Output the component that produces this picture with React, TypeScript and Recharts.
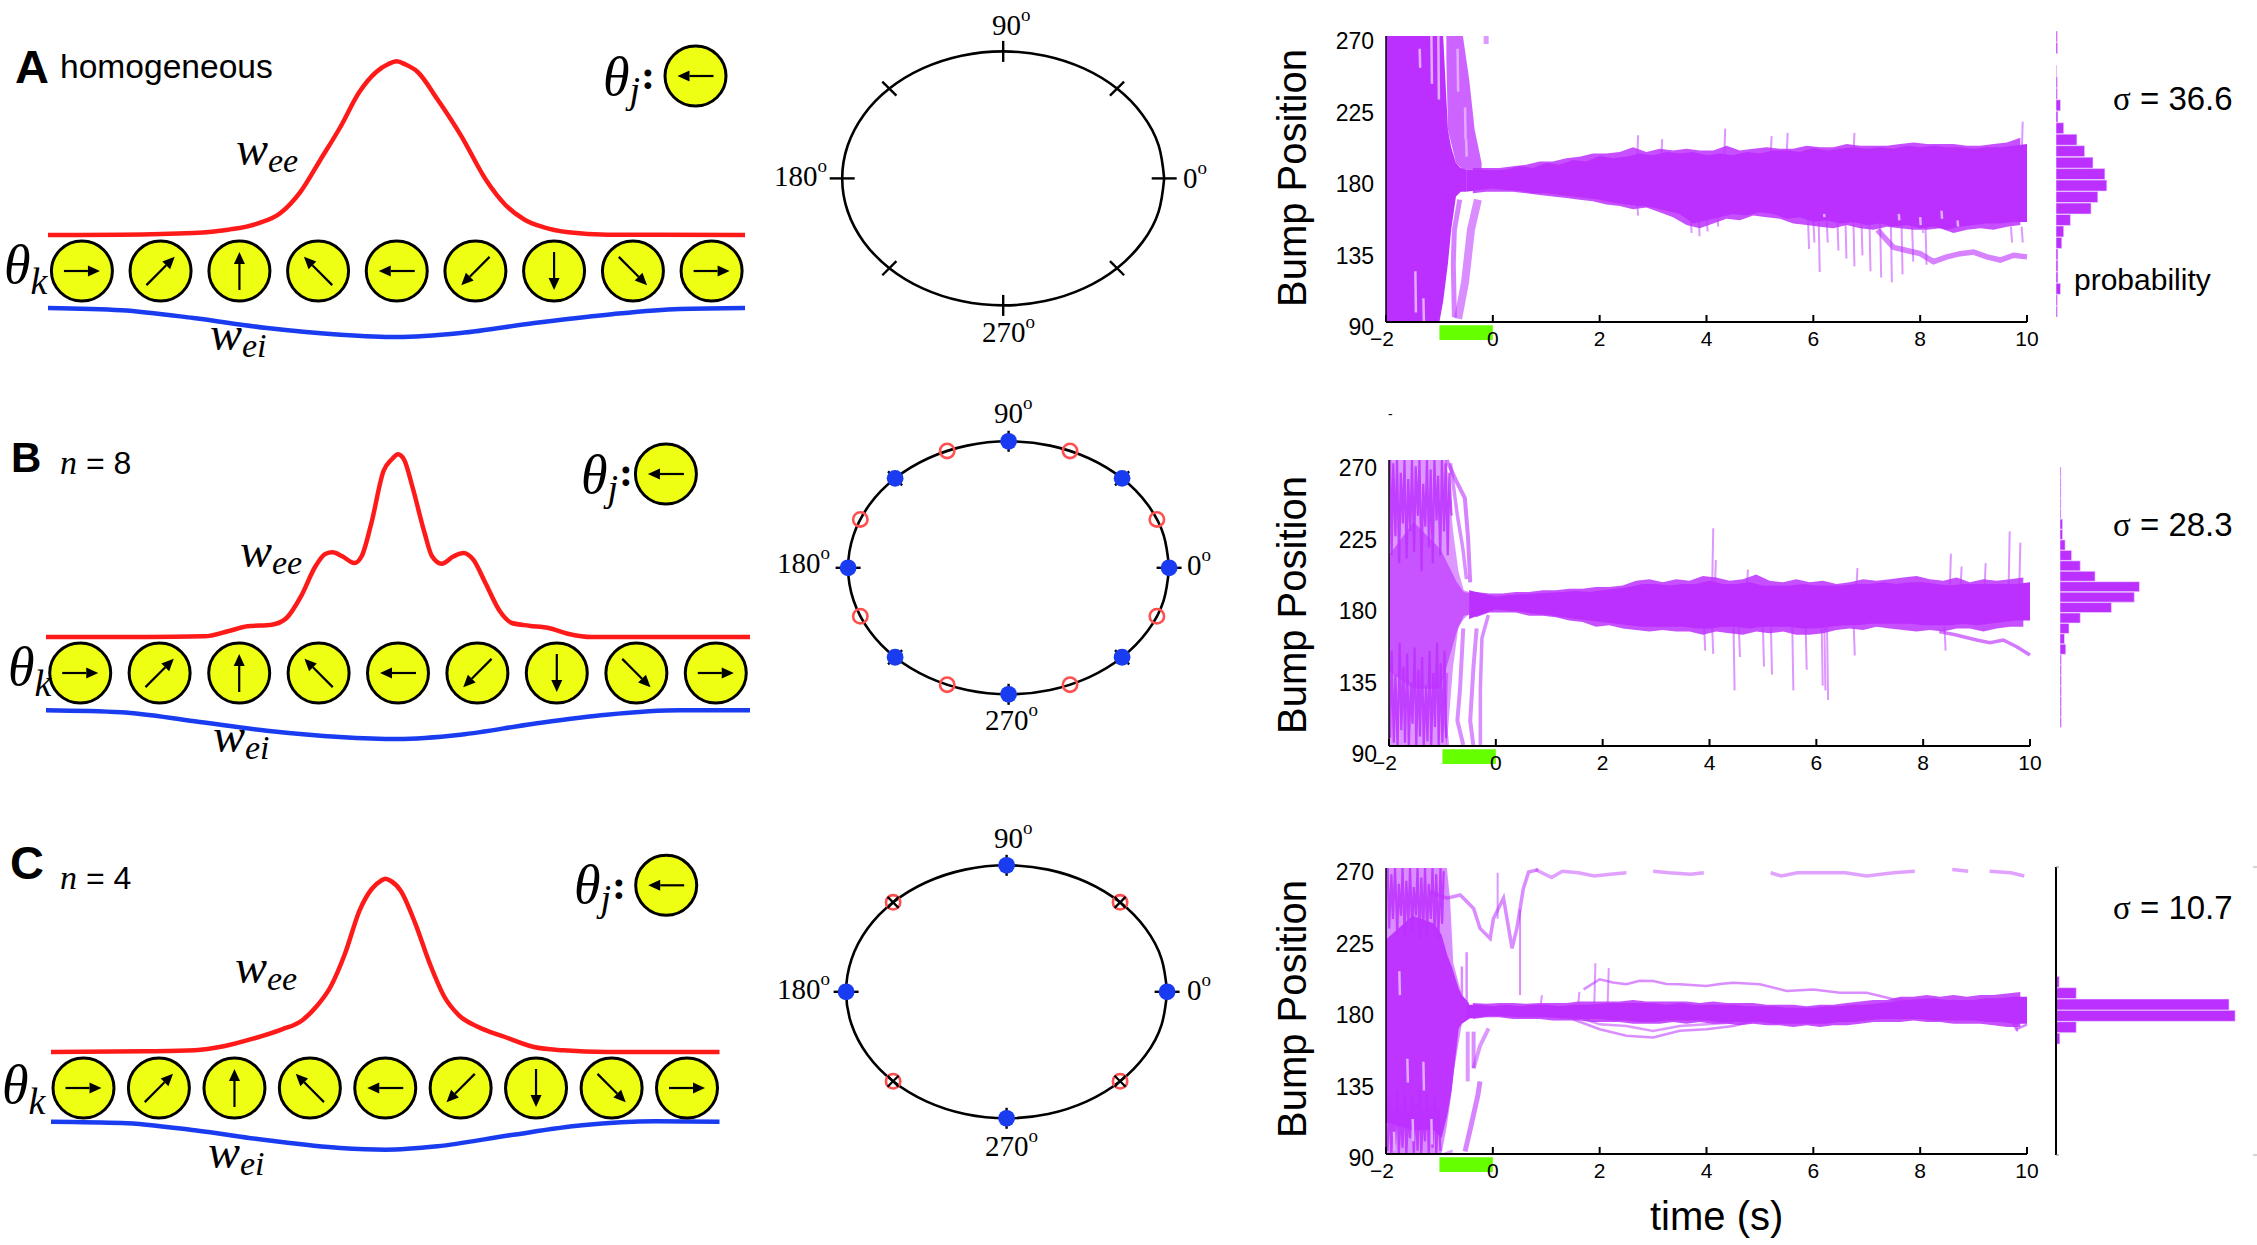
import React from "react";
import { ComposedChart, BarChart, Bar, Area, Line, Scatter, XAxis, YAxis, ReferenceArea } from "recharts";

// ---------- connectivity profiles (degrees vs. weight) ----------
const thetaEeA = [-180,-142,-105,-87,-72,-60,-49.5,-39.4,-29.4,-19.3,-10.6,-4.3,0,4.5,10.8,20.9,33.4,46,56,66,76,88.7,108.8,180];
const weeA = [0,0.3,2,5.3,11.3,22,43.7,75.3,107,143,163,171,173.7,170.5,163,136,98.7,55.3,30.3,15.3,7.7,2.7,0.3,0];
const thetaEiA = [-180,-142,-105,-67,-29,0,33,71,108.8,146,180];
const weiA = [-73,-75.3,-83,-93,-99.7,-102,-98,-88,-79.7,-74,-73];

const thetaEeB = [-180,-129,-99,-87,-77,-64.5,-57,-49.6,-42.2,-37.2,-33.5,-28.5,-22.3,-18.6,-13.6,-7.4,-3,0,3.2,7.4,13.6,17.4,22.3,28.5,33.5,38.5,44.7,52.1,58.3,67,77,86.8,99.3,180];
const weeB = [0,0,0.7,5.7,10.7,12.3,19,40.7,70.7,83,84.7,80.7,74,80.7,114,166,178,182.7,177,150,104,80.7,73.3,80.7,84,77.3,54,25.7,14,11.3,9,3.3,0,0];
const thetaEiB = [-180,-141.6,-104,-67,-29.8,0,32,69.5,106.7,144,180];
const weiB = [-73.3,-75.3,-84.3,-93.7,-100,-102,-97.7,-86.7,-77.7,-73.3,-73.3];

const thetaEeC = [-180,-128.7,-102.6,-87,-71.3,-55.6,-45.2,-37.3,-29.5,-21.7,-13.8,-7.3,-2.1,0,3.1,8.4,16.2,24,31.9,39.7,50.1,64.5,80.1,95.8,119.3,180];
const weeC = [0,0.7,1.7,5.7,13.3,22.7,31,45,65,98.3,141.7,163,171.5,173.3,171,161,128.3,88.3,55,36.7,25,15,5,1.7,0,0];
const thetaEiC = [-180,-141.8,-102.6,-63.4,-24.3,0,28,67,106,145.4,180];
const weiC = [-69.7,-71,-78.3,-88.3,-96,-97.7,-94.3,-83.3,-73.3,-69.3,-69.7];

// ---------- neurons ----------
const neuronTheta = [-162.5,-121.9,-81.2,-40.6,0,40.6,81.2,121.9,162.5];
const neuronPref = [0,45,90,135,180,225,270,315,0];

// ---------- ring ----------
const ringDegrees = [0,15,30,45,60,75,90,105,120,135,150,165,180,195,210,225,240,255,270,285,300,315,330,345,360];
const axisDegrees = [0,90,180,270];
const diagDegrees = [45,135,225,315];
const eighthDegrees = [22.5,67.5,112.5,157.5,202.5,247.5,292.5,337.5];

// ---------- bump-position traces ----------
const bandTimes = [-0.5,-0.25,0,0.25,0.5,0.75,1,1.25,1.5,1.75,2,2.25,2.5,2.75,3,3.25,3.5,3.75,4,4.25,4.5,4.75,5,5.25,5.5,5.75,6,6.25,6.5,6.75,7,7.25,7.5,7.75,8,8.25,8.5,8.75,9,9.25,9.5,9.75,10];
const bandHighA = [186,186,185.5,186,188,187,190,189,192,191,194.5,193,194,196,195,197,196,197,195,196,195,197,196,198,198,197,199.5,198,199,200,199,200,199,201,200,201,200,200,199,200,200,201,202];
const bandLowA = [172,173,174,173,172.5,171,171,170,169,168,167,165,164,163,162,160,158,152,154,156,158,157,159,158,155,156,153,154,152,153,151,152,150,151,149,150,148,150,151,152,152,153,153];
const bandHighB = [188,186,184,185,185.5,186,186.5,187,187.5,187,188,189,190,192,192,191,192,192,194,192,192,193,191,191,191,192,191,191,191,192,192,193,192,193,193,192,191,192,192,192,192,192,193];
const bandLowB = [170,173,176,175,174.5,173,172.5,171,170,169,168,167,166,165,165,165,165,164,164,165,165,164,165,165,165,164,164,165,166,166,167,167,167,167,166,166,166,167,166,167,168,169,169];
const bandHighC = [184,184,183,184,183,184,184,183,184,184,184.5,185,185,185,185,184,185,184,184,184,184,183,183,183,182,182,182,183,183,184,184,185,186,187,187.5,188,187,187,187,188,188,189,189];
const bandLowC = [175,176,177,176.5,176,176,176,175.5,175,175,175,174,174,173,173,174,174,174,174,173,173,173,173,172,172,172,172,172,173,173,174,175,175,175,175,174,174,174,174,173,173,172,172];

const fringeTimes = [-0.375,-0.125,0.125,0.375,0.625,0.875,1.125,1.375,1.625,1.875,2.125,2.375,2.625,2.875,3.125,3.375,3.625,3.875,4.125,4.375,4.625,4.875,5.125,5.375,5.625,5.875,6.125,6.375,6.625,6.875,7.125,7.375,7.625,7.875,8.125,8.375,8.625,8.875,9.125,9.375,9.625,9.875];
const fringeHighA = [187,187,187,188,189,191,191,193,194,196,196,197,200,197,199,198,199,198,198,201,198,199,200,199,199,201,200,200,202,201,201,201,202,203,202,202,202,201,201,202,203,206];
const fringeLowA = [171,172,172,172,171,170,169,168,167,166,164,163,161,162,159,156,151,149,152,155,154,157,156,155,152,151,150,149,151,149,148,150,149,148,148,149,146,148,149,148,150,151];
const fringeHighB = [187,186,186,187,187,188,188,189,189,190,190,191,194,195,193,195,194,197,196,194,195,198,194,193,195,193,194,192,193,195,194,195,196,197,195,194,196,193,195,194,195,196];
const fringeLowB = [171,174,174,174,172,172,171,169,168,165,166,164,163,162,163,162,162,160,162,161,160,162,161,162,160,160,161,163,164,163,165,164,163,162,163,162,164,164,162,164,165,165];
const fringeHighC = [185,184.5,185,185,184.5,185,185,185,186,186,186,186,187,186,186,186,186,185,186,185,185,185,184,184,184,183,184,184,185,186,187,187,189,189,190,189,190,189,190,190,191,192];
const fringeLowC = [175,176,176,175,175,175,174,174,174,173,173,173,172,172,172,173,172,173,172,172,171,172,171,171,170,171,170,171,171,172,173,173,173,174,173,173,172,172,172,171,170,170];

const paleTimesA = [-2,-1,-0.93,-0.84,-0.78,-0.69,-0.6,-0.5];
const paleHighA = [270,270,270,211,200,190,187,186];
const paleLowA = [90,90,103,127,148,169,172,172];
const wedgeTimesA = [-0.87,-0.84,-0.69,-0.56,-0.44,-0.34,-0.21];
const wedgeHighA = [270,270,270,270,242,211,190];
const wedgeLowA = [255,211,190,186,186,186,186];
const paleTimesB = [-2,-0.92,-0.8,-0.7,-0.6,-0.5];
const paleHighB = [270,270,225,200,188,187];
const paleLowB = [90,90,140,165,170,173];
const coreTimesB = [-2,-1.54,-1.04,-0.73,-0.6,-0.45];
const coreHighB = [210,231,214,193,187,186];
const coreLowB = [137,126,126,162,172,173];
const paleTimesC = [-2,-0.96,-0.86,-0.8,-0.74,-0.58,-0.45];
const paleHighC = [270,270,270,250,210,190,185];
const paleLowC = [90,90,108,122,140,172,175];
const coreTimesC = [-2,-1.5,-1.1,-0.96,-0.85,-0.77,-0.64,-0.58,-0.45];
const coreHighC = [225,240,235,228,215,208,194,190,185];
const coreLowC = [110,105,105,100,115,130,169,172,175];

const zigTopB = [[-1.98,270],[-1.95,210],[-1.92,268],[-1.88,222],[-1.85,270],[-1.81,205],[-1.78,262],[-1.74,230],[-1.71,270],[-1.67,208],[-1.64,258],[-1.6,225],[-1.57,270],[-1.53,212],[-1.5,266],[-1.46,235],[-1.43,270],[-1.39,200],[-1.36,255],[-1.32,228],[-1.29,270],[-1.25,215],[-1.22,264],[-1.18,205],[-1.15,270],[-1.11,232],[-1.08,260],[-1.04,210],[-1.01,270],[-0.97,225],[-0.94,268],[-0.9,210],[-0.87,262],[-0.83,235]];
const zigBotB = [[-1.98,95],[-1.95,150],[-1.91,92],[-1.88,135],[-1.84,90],[-1.8,155],[-1.77,100],[-1.73,140],[-1.7,92],[-1.66,148],[-1.63,90],[-1.59,130],[-1.56,104],[-1.52,152],[-1.49,90],[-1.45,138],[-1.42,96],[-1.38,146],[-1.35,90],[-1.31,128],[-1.28,93],[-1.24,150],[-1.21,90],[-1.17,136],[-1.14,102],[-1.1,155],[-1.07,90],[-1.03,142],[-1,92],[-0.96,150],[-0.93,95]];
const zigTopC = [[-1.97,270],[-1.94,232],[-1.9,266],[-1.87,238],[-1.83,270],[-1.79,228],[-1.76,260],[-1.72,240],[-1.69,270],[-1.65,226],[-1.62,262],[-1.58,236],[-1.55,270],[-1.51,230],[-1.48,258],[-1.44,240],[-1.41,270],[-1.37,225],[-1.34,264],[-1.3,234],[-1.27,270],[-1.23,228],[-1.2,260],[-1.16,238],[-1.13,270],[-1.09,230],[-1.06,266],[-1.02,225],[-0.98,270],[-0.95,235],[-0.92,268]];
const zigBotC = [[-1.97,92],[-1.94,125],[-1.9,90],[-1.87,118],[-1.83,96],[-1.79,130],[-1.76,90],[-1.72,120],[-1.69,94],[-1.65,128],[-1.62,90],[-1.58,116],[-1.55,100],[-1.51,126],[-1.48,90],[-1.44,122],[-1.41,92],[-1.37,130],[-1.34,90],[-1.3,118],[-1.27,98],[-1.23,128],[-1.2,90],[-1.16,120],[-1.13,94],[-1.09,126],[-1.06,90],[-1.02,118],[-0.98,92]];

const streaksA = [
  { w: 5, o: 0.6, pts: [[-0.72,93],[-0.74,127],[-0.72,148],[-0.62,167]] },
  { w: 8, o: 0.55, pts: [[-0.65,92],[-0.52,115],[-0.41,148],[-0.28,167]] },
  { w: 5, o: 0.5, pts: [[-0.125,270],[-0.125,265]] },
  { w: 5.5, o: 0.6, pts: [[7.2,148],[7.5,137],[7.75,135],[8,133],[8.25,128],[8.5,131],[8.75,133],[9,134],[9.25,131],[9.5,129],[9.75,132],[10,131]] },
];
const streaksB = [
  { w: 4, o: 0.6, pts: [[-0.92,270],[-0.73,256],[-0.58,246],[-0.52,221],[-0.48,193]] },
  { w: 3.5, o: 0.55, pts: [[-0.85,268],[-0.72,235],[-0.62,215],[-0.55,195]] },
  { w: 4, o: 0.55, pts: [[-0.61,164],[-0.67,126],[-0.72,106],[-0.61,90.6]] },
  { w: 4, o: 0.55, pts: [[-0.36,164],[-0.42,139],[-0.48,106],[-0.42,90]] },
  { w: 3.5, o: 0.55, pts: [[-0.14,172.5],[-0.26,158],[-0.29,126],[-0.29,90]] },
  { w: 3, o: 0.5, pts: [[-0.92,136],[-0.95,106],[-0.9,90]] },
  { w: 3.5, o: 0.65, pts: [[8.3,162],[8.6,160],[9,156.7],[9.25,155],[9.5,156.7],[9.75,152.5],[10,147.3]] },
];
const streaksC = [
  { w: 4, o: 0.5, pts: [[-0.08,169],[-0.24,158],[-0.36,144]] },
  { w: 4, o: 0.55, pts: [[-0.36,167],[-0.36,144]] },
  { w: 4, o: 0.5, pts: [[-0.47,167],[-0.47,135.7]] },
  { w: 5, o: 0.6, pts: [[-0.24,135.7],[-0.28,127],[-0.42,106],[-0.52,91.6]] },
  { w: 3, o: 0.45, pts: [[-0.9,90],[-0.75,92]] },
  { w: 2.5, o: 0.55, pts: [[-0.49,217],[-0.49,186]] },
  { w: 2.5, o: 0.55, pts: [[-0.58,208],[-0.58,186]] },
  { w: 3.5, o: 0.55, pts: [[-1.175,255],[-0.86,251],[-0.61,253],[-0.36,244.5],[-0.24,232],[-0.05,225.6],[0.01,238],[0.2,251],[0.36,219.4],[0.45,232],[0.57,257],[0.67,267.5],[0.85,269]] },
  { w: 2, o: 0.5, pts: [[0.09,267],[0.09,238]] },
  { w: 2, o: 0.55, pts: [[0.51,244],[0.51,190]] },
  { w: 2.5, o: 0.55, pts: [[1.7,193.6],[2,200],[2.25,198],[2.5,196.8],[2.75,199],[3,198.9],[3.25,197],[3.5,196.8],[4,195.7],[4.25,197],[4.5,197.8],[5,196.8],[5.5,192.6],[6,193.6],[6.5,191.5],[7,191.5],[7.5,187.4],[8,185.3]] },
  { w: 2.5, o: 0.55, pts: [[1.5,174.8],[2,168.5],[2.5,164.4],[3,163.3],[3.5,167.5],[4,168.5],[4.5,170.6],[5,174.8]] },
  { w: 2.5, o: 0.5, pts: [[1.7,175],[2,171.6],[2.5,170.6],[3,167.5],[3.5,170.6],[4,171.6],[4.5,172.7]] },
  { w: 2.5, o: 0.6, pts: [[9.7,174.8],[9.8,168.5],[10,171.6]] },
];

const spikesA = [[2.7,190,207.5],[3.15,190,205],[4.33,190,211.7],[5.2,195,207],[5.5,195,209],[6.75,195,209],[9.9,195,216],[2.7,165,157],[3.7,160,146],[3.85,160,144],[4,160,147],[4.2,160,150],[5.9,155,136],[6,155,140],[6.1,155,121.5],[6.25,155,140],[6.45,155,135],[6.6,155,130],[6.75,155,125],[6.9,155,132],[7.05,155,122],[7.25,155,118],[7.45,155,115],[7.65,155,120],[7.85,150,128],[8.1,150,126],[9.7,150,140],[9.9,150,140]];
const spikesB = [[4.05,190,227],[4.1,190,207],[4.7,190,201],[6.75,190,202],[8.5,190,211],[8.7,190,203],[9.15,190,205],[9.6,190,225],[9.8,190,218],[3.9,165,150],[4.05,165,148],[4.45,165,125],[4.55,165,146],[5,165,140],[5.15,165,135],[5.55,165,125],[5.8,165,138],[6.1,165,128],[6.15,165,125],[6.2,165,119],[6.7,165,147],[8.4,165,150]];
const spikesC = [[1.9,185,210],[2.15,185,207],[1.6,185,192],[0.9,185,190],[9.8,172,167]];

// pale gaps seen inside the dense parts of the bundle
const slitsA = [[-1.37,262,250],[-1.15,270,240],[-1.02,270,230],[-1.45,122,96],[-1.3,105,90],[-0.66,262,235],[-0.52,225,205],[-0.5,205,194],[6.2,158,156],[7.6,158,154],[8,156,151],[8.4,160,155],[8.7,154,150],[8.05,148,146]];
const slitsC = [[-1.6,150,135],[-1.75,205,190],[-1.3,148,130],[-1.15,112,96],[-1.5,112,98],[-1.85,104,92]];

const topTraceTimesC = [0.8,1.1,1.3,1.6,1.9,2.2,2.5,2.7,3,3.3,3.7,3.95,4.3,5.2,5.4,5.7,6.2,6.6,7,7.5,7.9,8.2,8.6,8.9,9.1,9.3,9.7,9.95];
const topTraceValuesC = [269,264,268,267,265,266,267,null,268,267,266,267,null,267,265,267,267,267,265,267,268,null,269,268,null,268,267,265];

// ---------- probability histograms (percent per bin, top to bottom) ----------
const histBins = ["266","259","252","245","238","230","223","216","209","202","194","187","180","173","166","158","151","144","137","130","122","115","108","101","94"];
const histA = [0.4,0.5,0,0.2,0.4,0.4,1.4,0.6,2.4,6.5,8.9,11.5,15.2,15.8,13,10.9,4.5,2.4,1.8,0.6,0.6,0.6,1.4,0.4,0.4];
const histB = [0.3,0.3,0.3,0.3,0.3,0.8,0.8,1.6,3.6,6.3,10.9,24.7,23.1,16,6.3,2.8,1.4,1.8,0.4,0.4,0.4,0.4,0.4,0.4,0.4];
const histC = [0,0,0,0,0,0,0,0,0,0,1,6.3,53.8,55.7,6.3,1.2,0,0,0,0,0,0,0,0,0];

// ---------- axis ticks ----------
const timeTicks = [-2,0,2,4,6,8,10];
const positionTicks = [90,135,180,225,270];
const stimulusOn = -1;
const stimulusOff = 0;
const stimulusBand = [78.7, 88];

const PURPLE = "#BC30FF";
const SERIF = "'Liberation Serif', serif";
const SANS = "'Liberation Sans', Arial, sans-serif";

const zipXY = (xs: number[], ys: any[]) => xs.map((x, i) => ({ x, y: ys[i] }));
const band = (ts: number[], hi: number[], lo: number[]) => ts.map((t, i) => ({ t, range: [lo[i], hi[i]] }));
const ptsToT = (pts: number[][]) => pts.map(([t, v]) => ({ t, v }));

function NeuronGlyph(props: any) {
  const { cx, cy, payload } = props;
  const a = (payload.pref * Math.PI) / 180;
  const diag = payload.pref % 90 !== 0;
  const half = diag ? 20 : payload.pref % 180 === 90 ? 19 : 18;
  const dx = Math.cos(a), dy = -Math.sin(a);
  const tipX = cx + dx * half, tipY = cy + dy * half;
  const baseX = tipX - dx * 12, baseY = tipY - dy * 12;
  const px = -dy * 5.5, py = dx * 5.5;
  return (
    <g>
      <ellipse cx={cx} cy={cy} rx={30.5} ry={30} fill="#EEFF14" stroke="#000" strokeWidth={3} />
      <line x1={cx - dx * half} y1={cy - dy * half} x2={baseX} y2={baseY} stroke="#000" strokeWidth={2.2} />
      <polygon points={`${tipX},${tipY} ${baseX + px},${baseY + py} ${baseX - px},${baseY - py}`} fill="#000" />
    </g>
  );
}

function WeightPanel({ left, width, top, thetaEe, wee, thetaEi, wei, probe }: any) {
  const neurons = neuronTheta.map((x, i) => ({ x, y: -36, pref: neuronPref[i] }));
  return (
    <div style={{ position: "absolute", left, top }}>
      <ComposedChart width={width} height={320} margin={{ top: 0, right: 0, bottom: 0, left: 0 }}>
        <XAxis type="number" dataKey="x" domain={[-180, 180]} hide />
        <YAxis type="number" dataKey="y" domain={[-120, 200]} hide />
        <Line data={zipXY(thetaEe, wee)} dataKey="y" type="monotone" stroke="#FF1A1A" strokeWidth={4.5} dot={false} isAnimationActive={false} />
        <Line data={zipXY(thetaEi, wei)} dataKey="y" type="monotone" stroke="#1A3CF0" strokeWidth={4.5} dot={false} isAnimationActive={false} />
        <Scatter data={neurons} dataKey="y" shape={NeuronGlyph} isAnimationActive={false} />
        <Scatter data={[probe]} dataKey="y" shape={NeuronGlyph} isAnimationActive={false} />
      </ComposedChart>
    </div>
  );
}

function TickMark(props: any) {
  const { cx, cy, payload } = props;
  const a = (payload.deg * Math.PI) / 180;
  const onAxis = payload.deg % 90 === 0;
  const len = payload.len ?? (onAxis ? (payload.deg % 180 === 0 ? 12.5 : 10.5) : 10);
  const dx = Math.cos(a) * len, dy = -Math.sin(a) * len;
  return <line x1={cx - dx} y1={cy - dy} x2={cx + dx} y2={cy + dy} stroke="#000" strokeWidth={2.4} />;
}
function CrossMark(props: any) {
  const { cx, cy } = props;
  const d = 5.5;
  return (
    <g stroke="#000" strokeWidth={2.2}>
      <line x1={cx - d} y1={cy - d} x2={cx + d} y2={cy + d} />
      <line x1={cx - d} y1={cy + d} x2={cx + d} y2={cy - d} />
    </g>
  );
}
const BlueDot = (props: any) => <circle cx={props.cx} cy={props.cy} r={8.4} fill="#1A3CF0" />;
const RedRing = (props: any) => <circle cx={props.cx} cy={props.cy} r={7.2} fill="none" stroke="#FF5050" strokeWidth={2.6} />;

const onRing = (deg: number, extra: any = {}) => ({
  x: Math.cos((deg * Math.PI) / 180),
  y: Math.sin((deg * Math.PI) / 180),
  deg,
  ...extra,
});

function RingPanel({ cx, cy, rx, ry, blue, red, cross, tickLen }: any) {
  const pad = 1.2;
  const w = 2 * rx * pad, h = 2 * ry * pad;
  const ticks = [...axisDegrees.map((d) => onRing(d)), ...diagDegrees.map((d) => onRing(d, tickLen ? { len: tickLen } : {}))];
  return (
    <div style={{ position: "absolute", left: cx - w / 2, top: cy - h / 2 }}>
      <ComposedChart width={w} height={h} margin={{ top: 0, right: 0, bottom: 0, left: 0 }}>
        <XAxis type="number" dataKey="x" domain={[-pad, pad]} hide />
        <YAxis type="number" dataKey="y" domain={[-pad, pad]} hide />
        <Line data={ringDegrees.map((d) => onRing(d))} dataKey="y" type="natural" stroke="#000" strokeWidth={2.6} dot={false} isAnimationActive={false} />
        <Scatter data={ticks} dataKey="y" shape={TickMark} isAnimationActive={false} />
        {red && <Scatter data={red.map((d: number) => onRing(d))} dataKey="y" shape={RedRing} isAnimationActive={false} />}
        {cross && <Scatter data={cross.map((d: number) => onRing(d))} dataKey="y" shape={CrossMark} isAnimationActive={false} />}
        {blue && <Scatter data={blue.map((d: number) => onRing(d))} dataKey="y" shape={BlueDot} isAnimationActive={false} />}
      </ComposedChart>
    </div>
  );
}

function RasterPanel({ left, top, labelDy, main, fringe, pale, core, wedge, zigs, streaks, spikes, slits, topTrace }: any) {
  const axisW = 60, pad = 10;
  const YTick = (p: any) => (
    <text x={p.x - 12} y={p.y + labelDy} textAnchor="end" dominantBaseline="central" fontFamily={SANS} fontSize={23} fill="#000">{p.payload.value}</text>
  );
  const XTick = (p: any) => (
    <text x={p.x - (p.payload.value < 0 ? 4 : 0)} y={p.y + 7 + 16} textAnchor="middle" dominantBaseline="central" fontFamily={SANS} fontSize={21} fill="#000">
      {p.payload.value < 0 ? "\u2212" + Math.abs(p.payload.value) : p.payload.value}
    </text>
  );
  return (
    <div style={{ position: "absolute", left: left - axisW, top: top - pad }}>
      <ComposedChart width={axisW + 641 + 30} height={pad + 286 + 40} margin={{ top: pad, right: 30, bottom: 0, left: 0 }}>
        <XAxis type="number" dataKey="t" domain={[-2, 10]} ticks={timeTicks} height={40} interval={0} tick={XTick} tickSize={-7} tickMargin={0} stroke="#000" strokeWidth={2} />
        <YAxis type="number" domain={[90, 270]} ticks={positionTicks} width={axisW} interval={0} tick={YTick} tickLine={false} tickSize={0} tickMargin={0} stroke="#000" strokeWidth={1.5} />
        {pale && <Area data={pale.data} dataKey="range" type="linear" stroke="none" fill={PURPLE} fillOpacity={pale.o} dot={false} activeDot={false} isAnimationActive={false} />}
        {wedge && <Area data={wedge.data} dataKey="range" type="linear" stroke="none" fill={PURPLE} fillOpacity={wedge.o} dot={false} activeDot={false} isAnimationActive={false} />}
        {core && <Area data={core.data} dataKey="range" type="linear" stroke="none" fill={PURPLE} fillOpacity={core.o} dot={false} activeDot={false} isAnimationActive={false} />}
        {(zigs || []).map((z: number[][], i: number) => (
          <Line key={"z" + i} data={ptsToT(z)} dataKey="v" type="linear" stroke={PURPLE} strokeWidth={2.2} strokeOpacity={0.85} dot={false} isAnimationActive={false} />
        ))}
        <Area data={fringe} dataKey="range" type="linear" stroke="none" fill={PURPLE} fillOpacity={0.85} dot={false} activeDot={false} isAnimationActive={false} />
        <Area data={main} dataKey="range" type="linear" stroke="none" fill={PURPLE} fillOpacity={1} dot={false} activeDot={false} isAnimationActive={false} />
        {spikes.map((s: number[], i: number) => (
          <Line key={"s" + i} data={[{ t: s[0], v: s[1] }, { t: s[0] + 0.02, v: s[2] }]} dataKey="v" type="linear" stroke={PURPLE} strokeOpacity={0.5} strokeWidth={2} dot={false} isAnimationActive={false} />
        ))}
        {streaks.map((s: any, i: number) => (
          <Line key={"k" + i} data={ptsToT(s.pts)} dataKey="v" type="linear" stroke={PURPLE} strokeOpacity={s.o} strokeWidth={s.w} dot={false} isAnimationActive={false} />
        ))}
        {(slits || []).map((s: number[], i: number) => (
          <Line key={"g" + i} data={[{ t: s[0], v: s[1] }, { t: s[0] + 0.01, v: s[2] }]} dataKey="v" type="linear" stroke="#E3ABFF" strokeWidth={2.5} dot={false} isAnimationActive={false} />
        ))}
        {topTrace && <Line data={topTrace} dataKey="v" type="linear" stroke={PURPLE} strokeOpacity={0.45} strokeWidth={3.5} dot={false} connectNulls={false} isAnimationActive={false} />}
        <ReferenceArea x1={stimulusOn} x2={stimulusOff} y1={stimulusBand[0]} y2={stimulusBand[1]} ifOverflow="visible" fill="#66FF00" fillOpacity={1} stroke="none" />
      </ComposedChart>
    </div>
  );
}

function HistPanel({ left, top, height, values }: any) {
  const data = histBins.map((bin, i) => ({ bin, pct: values[i] }));
  return (
    <div style={{ position: "absolute", left, top }}>
      <BarChart layout="vertical" width={193} height={height} data={data} margin={{ top: 0, right: 0, bottom: 0, left: 0 }} barCategoryGap={0} barGap={0}>
        <XAxis type="number" domain={[0, 60]} hide />
        <YAxis type="category" dataKey="bin" hide />
        <Bar dataKey="pct" fill={PURPLE} stroke="#F0DCFF" strokeWidth={0.6} isAnimationActive={false} />
      </BarChart>
    </div>
  );
}

const Deg = ({ x, y, v }: any) => (
  <text x={x} y={y} fontFamily={SERIF} fontSize={29} fill="#000">
    {v}
    <tspan dy={-14} fontSize={19}>o</tspan>
  </text>
);
const W = ({ x, y, sub }: any) => (
  <text x={x} y={y} fontFamily={SERIF} fontStyle="italic" fontSize={48} fill="#000">
    w<tspan dy={7} fontSize={34}>{sub}</tspan>
  </text>
);
const Theta = ({ x, y, sub, colon }: any) => (
  <g>
    <text x={x} y={y} fontFamily={SERIF} fontStyle="italic" fontSize={54} fill="#000">
      θ<tspan dy={sub === "j" ? 8 : 11} fontSize={38}>{sub}</tspan>
    </text>
    {colon && <text x={colon[0]} y={colon[1]} textAnchor="middle" fontFamily={SERIF} fontSize={42} fontWeight="bold" fill="#000">:</text>}
  </g>
);
const Sigma = ({ x, y, v }: any) => (
  <text x={x} y={y} fontFamily={SANS} fontSize={33} fill="#000">
    <tspan fontFamily={SERIF}>σ</tspan> = {v}
  </text>
);
const NLabel = ({ y, v }: any) => (
  <text x={60} y={y} fontFamily={SANS} fontSize={32} fill="#000">
    <tspan fontFamily={SERIF} fontStyle="italic" fontSize={34}>n</tspan> = {v}
  </text>
);

export default function App() {
  return (
    <div style={{ position: "absolute", left: 0, top: 0, width: 2257, height: 1245, background: "#fff", overflow: "hidden" }}>
      <WeightPanel left={47.5} width={697.5} top={35} thetaEe={thetaEeA} wee={weeA} thetaEi={thetaEiA} wei={weiA} probe={{ x: 154.2, y: 159, pref: 180 }} />
      <WeightPanel left={46} width={704} top={437.3} thetaEe={thetaEeB} wee={weeB} thetaEi={thetaEiB} wei={weiB} probe={{ x: 137, y: 163, pref: 180 }} />
      <WeightPanel left={51} width={668.5} top={851.7} thetaEe={thetaEeC} wee={weeC} thetaEi={thetaEiC} wei={weiC} probe={{ x: 151.3, y: 166.7, pref: 180 }} />

      <RingPanel cx={1003} cy={178} rx={161} ry={127} />
      <RingPanel cx={1009} cy={567.5} rx={160.5} ry={126.5} blue={[...axisDegrees, ...diagDegrees]} red={eighthDegrees} />
      <RingPanel cx={1006.5} cy={991.5} rx={160.5} ry={126.5} blue={axisDegrees} red={diagDegrees} cross={diagDegrees} tickLen={1} />

      <RasterPanel left={1386} top={36} labelDy={5} main={band(bandTimes, bandHighA, bandLowA)} fringe={band(fringeTimes, fringeHighA, fringeLowA)}
        pale={{ data: band(paleTimesA, paleHighA, paleLowA), o: 1 }} wedge={{ data: band(wedgeTimesA, wedgeHighA, wedgeLowA), o: 0.75 }} streaks={streaksA} spikes={spikesA} slits={slitsA} />
      <RasterPanel left={1389} top={460} labelDy={8} main={band(bandTimes, bandHighB, bandLowB)} fringe={band(fringeTimes, fringeHighB, fringeLowB)}
        pale={{ data: band(paleTimesB, paleHighB, paleLowB), o: 0.5 }} core={{ data: band(coreTimesB, coreHighB, coreLowB), o: 0.65 }} zigs={[zigTopB, zigBotB]} streaks={streaksB} spikes={spikesB} />
      <RasterPanel left={1386} top={868} labelDy={4} main={band(bandTimes, bandHighC, bandLowC)} fringe={band(fringeTimes, fringeHighC, fringeLowC)}
        pale={{ data: band(paleTimesC, paleHighC, paleLowC), o: 0.55 }} core={{ data: band(coreTimesC, coreHighC, coreLowC), o: 0.95 }} zigs={[zigTopC, zigBotC]} streaks={streaksC} spikes={spikesC} slits={slitsC}
        topTrace={topTraceTimesC.map((t, i) => ({ t, v: topTraceValuesC[i] }))} />

      <HistPanel left={2056} top={30.7} height={286.7} values={histA} />
      <HistPanel left={2060} top={467} height={260.7} values={histB} />
      <HistPanel left={2056} top={863.3} height={283.4} values={histC} />

      <svg width={2257} height={1245} style={{ position: "absolute", left: 0, top: 0, pointerEvents: "none" }}>
        <text x={15} y={83} fontFamily={SANS} fontWeight="bold" fontSize={47}>A</text>
        <text x={60} y={78} fontFamily={SANS} fontSize={33.6}>homogeneous</text>
        <text x={11} y={472} fontFamily={SANS} fontWeight="bold" fontSize={42}>B</text>
        <NLabel y={474} v={8} />
        <text x={10} y={879} fontFamily={SANS} fontWeight="bold" fontSize={47}>C</text>
        <NLabel y={889} v={4} />

        <W x={236} y={165} sub="ee" />
        <W x={210} y={350} sub="ei" />
        <W x={240} y={567} sub="ee" />
        <W x={213} y={752} sub="ei" />
        <W x={235} y={983} sub="ee" />
        <W x={208} y={1168} sub="ei" />

        <Theta x={4} y={283} sub="k" />
        <Theta x={8} y={685} sub="k" />
        <Theta x={2} y={1103} sub="k" />
        <Theta x={603} y={95} sub="j" colon={[648, 89]} />
        <Theta x={581} y={493} sub="j" colon={[626, 486]} />
        <Theta x={574} y={903} sub="j" colon={[619, 899]} />

        <Deg x={992} y={35} v="90" />
        <Deg x={774} y={186} v="180" />
        <Deg x={1183} y={188} v="0" />
        <Deg x={982} y={342} v="270" />
        <Deg x={994} y={423} v="90" />
        <Deg x={777} y={573} v="180" />
        <Deg x={1187} y={575} v="0" />
        <Deg x={985} y={730} v="270" />
        <Deg x={994} y={848} v="90" />
        <Deg x={777} y={999} v="180" />
        <Deg x={1187} y={1000} v="0" />
        <Deg x={985} y={1156} v="270" />

        <text transform="translate(1306,307) rotate(-90)" fontFamily={SANS} fontSize={40}>Bump Position</text>
        <text transform="translate(1306,734) rotate(-90)" fontFamily={SANS} fontSize={40}>Bump Position</text>
        <text transform="translate(1306,1138) rotate(-90)" fontFamily={SANS} fontSize={40}>Bump Position</text>
        <text x={1650} y={1230} fontFamily={SANS} fontSize={40}>time (s)</text>

        <Sigma x={2113} y={110} v="36.6" />
        <Sigma x={2113} y={536} v="28.3" />
        <Sigma x={2113} y={919} v="10.7" />
        <text x={2074} y={290} fontFamily={SANS} fontSize={30}>probability</text>
        <text x={1388} y={419} fontFamily={SANS} fontSize={14}>-</text>

        <line x1={2056} y1={867} x2={2056} y2={1155} stroke="#000" strokeWidth={2} />
        <line x1={2056} y1={867} x2={2059} y2={867} stroke="#888" strokeWidth={1} />
        <line x1={2056} y1={1155} x2={2059} y2={1155} stroke="#888" strokeWidth={1} />
        <line x1={2253} y1={867} x2={2257} y2={867} stroke="#aaa" strokeWidth={1} />
        <line x1={2253} y1={1155} x2={2257} y2={1155} stroke="#aaa" strokeWidth={1} />
      </svg>
    </div>
  );
}
